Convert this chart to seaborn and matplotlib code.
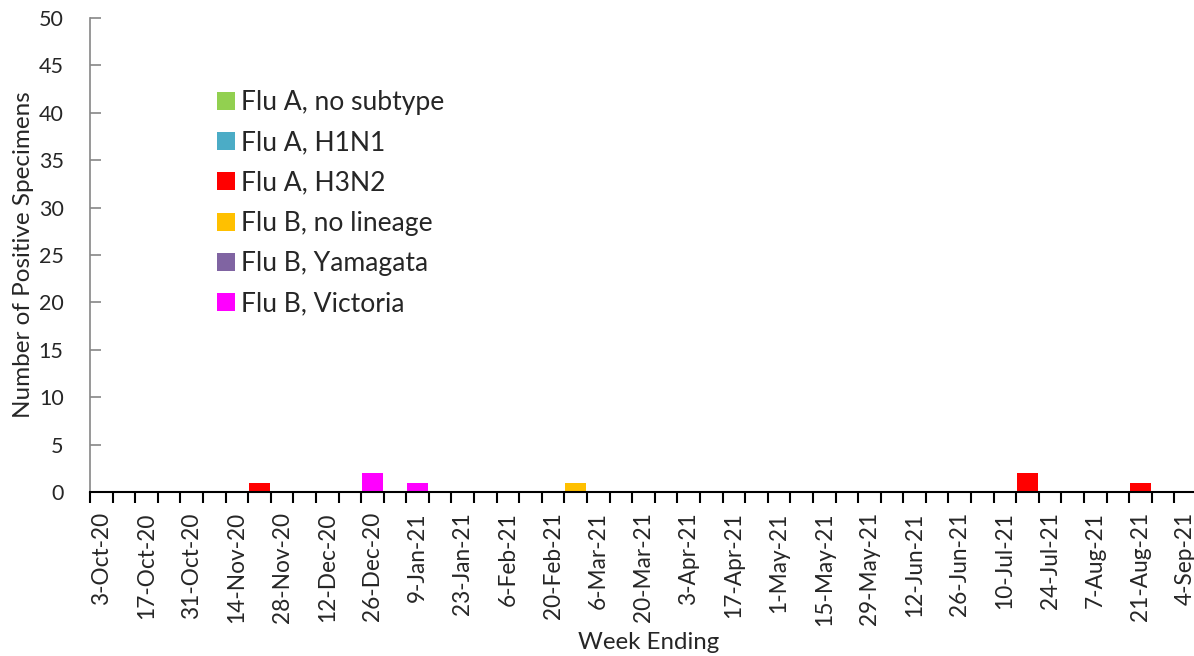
import numpy as np
import pandas as pd
import matplotlib
matplotlib.use("Agg")
import matplotlib.pyplot as plt
from matplotlib.patches import Patch
from matplotlib.ticker import FixedLocator
import seaborn as sns

# week-ending dates, one category per week
week_dates = pd.date_range("2020-10-03", periods=49, freq="7D")
week_labels = [f"{d.day}-{d.strftime('%b-%y')}" for d in week_dates]

series_names = ["Flu A, no subtype", "Flu A, H1N1", "Flu A, H3N2",
                "Flu B, no lineage", "Flu B, Yamagata", "Flu B, Victoria"]
series_colors = ["#92D050", "#4BACC6", "#FF0000", "#FFC000", "#8064A2", "#FF00FF"]

flu_a_nosub = [0] * 49
flu_a_h1n1 = [0] * 49
flu_a_h3n2 = [0, 0, 0, 0, 0, 0, 0, 1, 0, 0, 0, 0, 0, 0, 0, 0, 0, 0, 0, 0, 0, 0, 0, 0, 0,
              0, 0, 0, 0, 0, 0, 0, 0, 0, 0, 0, 0, 0, 0, 0, 0, 2, 0, 0, 0, 0, 1, 0, 0]
flu_b_nolin = [0, 0, 0, 0, 0, 0, 0, 0, 0, 0, 0, 0, 0, 0, 0, 0, 0, 0, 0, 0, 0, 1, 0, 0, 0,
               0, 0, 0, 0, 0, 0, 0, 0, 0, 0, 0, 0, 0, 0, 0, 0, 0, 0, 0, 0, 0, 0, 0, 0]
flu_b_yam = [0] * 49
flu_b_vic = [0, 0, 0, 0, 0, 0, 0, 0, 0, 0, 0, 0, 2, 0, 1, 0, 0, 0, 0, 0, 0, 0, 0, 0, 0,
             0, 0, 0, 0, 0, 0, 0, 0, 0, 0, 0, 0, 0, 0, 0, 0, 0, 0, 0, 0, 0, 0, 0, 0]

y_ticks = [0, 5, 10, 15, 20, 25, 30, 35, 40, 45, 50]

sns.set_style("white")
plt.rcParams['font.family'] = ['Lato', 'DejaVu Sans']

rows = []
for name, vals in zip(series_names, [flu_a_nosub, flu_a_h1n1, flu_a_h3n2,
                                     flu_b_nolin, flu_b_yam, flu_b_vic]):
    for i, v in enumerate(vals):
        rows.append({"week": i, "type": name, "count": v})
df = pd.DataFrame(rows)

fig = plt.figure(figsize=(11.94, 6.56), dpi=100)
ax = fig.add_axes([90 / 1194, 164 / 656, 1107 / 1194, 474 / 656])

sns.histplot(data=df, x="week", weights="count", hue="type", hue_order=series_names,
             palette=series_colors, multiple="stack", discrete=True, shrink=0.93,
             alpha=1, linewidth=0, legend=False, ax=ax)

ax.set_xlim(-0.5, len(week_labels) - 0.5)
ax.set_ylim(0, 50)
ax.set_yticks(y_ticks)
ax.set_yticklabels([str(t) for t in y_ticks], fontsize=15.5)

# labels on every other week, tick marks between weeks (Excel style)
ax.set_xticks(range(0, len(week_labels), 2))
ax.set_xticklabels(week_labels[::2], rotation=90, fontsize=16.3, va="top", ha="center")
ax.xaxis.set_minor_locator(FixedLocator(np.arange(-0.5, len(week_labels), 1)))
ax.tick_params(axis="x", which="major", length=0, pad=14.5)
ax.tick_params(axis="x", which="minor", length=8, width=1.5, color="black", direction="out", bottom=True)
ax.tick_params(axis="y", which="major", length=8, width=1.2, color="#868686", direction="in", pad=19, left=True)

for s in ["top", "right"]:
    ax.spines[s].set_visible(False)
ax.spines["left"].set_color("#868686")
ax.spines["left"].set_linewidth(1.2)
ax.spines["bottom"].set_color("black")
ax.spines["bottom"].set_linewidth(1.5)

ax.set_xlabel("Week Ending", fontsize=17.3)
ax.set_ylabel("Number of Positive Specimens", fontsize=17.5)
ax.xaxis.set_label_coords(0.505, -0.296)
ax.yaxis.set_label_coords(-0.0506, 0.5)

handles = [Patch(facecolor=c, edgecolor="none") for c in series_colors]
ax.legend(handles, series_names, loc="upper left", bbox_to_anchor=(0.1147, 0.848),
          frameon=False, fontsize=19.1, handlelength=0.68, handleheight=0.68,
          handletextpad=0.22, labelspacing=0.577, borderpad=0, borderaxespad=0)

fig.savefig("out.png", dpi=100)
